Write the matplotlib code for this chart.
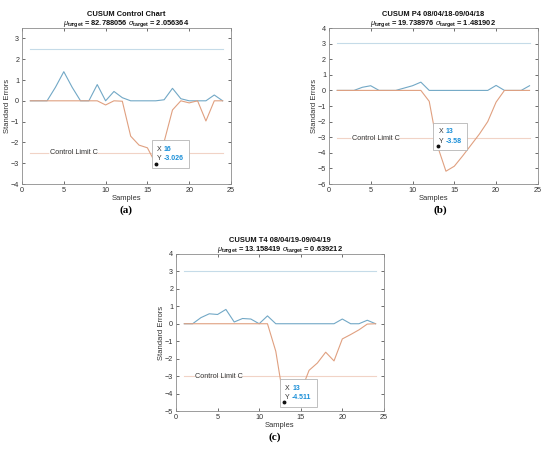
"""CUSUM control charts for three series, laid out as panels (a), (b), (c)."""

import matplotlib
matplotlib.use("Agg")
import matplotlib.pyplot as plt
from matplotlib.offsetbox import AnnotationBbox, HPacker, TextArea, VPacker

samples = list(range(1, 25))

# panel (a)
upper_a = [0, 0, 0, 0.65, 1.4, 0.65, 0, 0, 0.78, 0, 0.45, 0.15,
           0, 0, 0, 0, 0.05, 0.6, 0.1, 0, 0, 0, 0.28, 0]
lower_a = [0, 0, 0, 0, 0, 0, 0, 0, 0, -0.2, 0, -0.02,
           -1.7, -2.13, -2.26, -3.026, -1.97, -0.44, 0, -0.1, 0, -0.97, 0, 0]
limit_a = 2.5

# panel (b)
upper_b = [0, 0, 0, 0.2, 0.3, 0, 0, 0, 0.15, 0.3, 0.53, 0,
           0, 0, 0, 0, 0, 0, 0, 0.32, 0, 0, 0, 0.3]
lower_b = [0, 0, 0, 0, 0, 0, 0, 0, 0, 0, 0, -0.7,
           -3.58, -5.18, -4.86, -4.2, -3.5, -2.8, -2.0, -0.75, 0, 0, 0, 0]
limit_b = 3.06

# panel (c)
upper_c = [0, 0, 0.35, 0.57, 0.53, 0.82, 0.1, 0.3, 0.27, 0, 0.45, 0,
           0, 0, 0, 0, 0, 0, 0, 0.27, 0, 0, 0.2, 0]
lower_c = [0, 0, 0, 0, 0, 0, 0, 0, 0, 0, 0, -1.58,
           -4.511, -4.2, -3.9, -2.67, -2.25, -1.63, -2.13, -0.87, -0.62, -0.35, -0.02, 0]
limit_c = 3.0

titles = [
    ("CUSUM Control Chart", "82.788056", "2.056364"),
    ("CUSUM P4 08/04/18-09/04/18", "19.738976", "1.481902"),
    ("CUSUM T4 08/04/19-09/04/19", "13.158419", "0.639212"),
]
tip_index = [15, 12, 12]
ylims = [(-4, 3.5), (-6, 4), (-5, 4)]
yticks = [range(-4, 4), range(-6, 5), range(-5, 5)]
limit_label_x = [3.3, 2.75, 2.3]
panel_tags = ["(a)", "(b)", "(c)"]

BLUE = "#72a8c6"
ORANGE = "#e0a080"
BLUE_LIMIT = "#c5dbe8"
ORANGE_LIMIT = "#f1d3c6"
TIP_BLUE = "#1a8fd8"
TEXT = "#333333"

plt.rcParams["font.family"] = ["Liberation Sans", "DejaVu Sans"]
plt.rcParams["mathtext.fontset"] = "custom"
plt.rcParams["mathtext.rm"] = "Liberation Sans"
plt.rcParams["mathtext.it"] = "Liberation Sans:italic"
plt.rcParams["mathtext.bf"] = "Liberation Sans:bold"

fig = plt.figure(figsize=(5.5, 4.54), dpi=100)
positions = [
    [0.040, 0.5947, 0.380, 0.3436],
    [0.598, 0.5947, 0.380, 0.3436],
    [0.320, 0.0947, 0.378, 0.3460],
]
tag_positions = [(0.229, 0.538), (0.800, 0.538), (0.500, 0.037)]

series = [(upper_a, lower_a, limit_a), (upper_b, lower_b, limit_b), (upper_c, lower_c, limit_c)]

for i, (up, lo, lim) in enumerate(series):
    ax = fig.add_axes(positions[i])
    ax.plot([samples[0], samples[-1]], [lim, lim], color=BLUE_LIMIT, lw=0.8)
    ax.plot([samples[0], samples[-1]], [-lim, -lim], color=ORANGE_LIMIT, lw=0.8)
    ax.plot(samples, up, color=BLUE, lw=0.8)
    ax.plot(samples, lo, color=ORANGE, lw=0.8)

    ax.text(limit_label_x[i], -lim, "Control Limit C", fontsize=5.2, color=TEXT,
            va="center", ha="left",
            bbox=dict(facecolor="white", edgecolor="none", pad=0.3, alpha=0.7))

    ax.set_xlim(0, 25)
    ax.set_ylim(*ylims[i])
    ax.set_xticks(range(0, 26, 5))
    ax.set_yticks(list(yticks[i]))
    ax.tick_params(direction="in", length=2, width=0.5, labelsize=5.2,
                   colors=TEXT, top=True, right=True, pad=2)
    for sp in ax.spines.values():
        sp.set_color("#8c8c8c")
        sp.set_linewidth(0.6)
    ax.set_xlabel("Samples", fontsize=5.5, color=TEXT, labelpad=1)
    ax.set_ylabel("Standard Errors", fontsize=5.5, color=TEXT, labelpad=0)

    name, mu, sigma = titles[i]
    ax.set_title(
        f"{name}\n" + r"$\mu_{\mathbf{target}}$" + f" = {mu} " + r"$\sigma_{\mathbf{target}}$" + f" = {sigma}",
        fontsize=5.4, fontweight="bold", color="#111111", pad=2, linespacing=1.15,
    )

    # data tip
    k = tip_index[i]
    xv, yv = samples[k], lo[k]
    ax.plot([xv], [yv], "o", color="#111111", ms=1.8, zorder=6)
    ytxt = f"{yv:g}"
    row_x = HPacker(children=[
        TextArea("X ", textprops=dict(fontsize=5.0, color=TEXT)),
        TextArea(f"{xv}", textprops=dict(fontsize=5.0, color=TIP_BLUE, fontweight="bold")),
    ], pad=0, sep=0)
    row_y = HPacker(children=[
        TextArea("Y ", textprops=dict(fontsize=5.0, color=TEXT)),
        TextArea(ytxt, textprops=dict(fontsize=5.0, color=TIP_BLUE, fontweight="bold")),
    ], pad=0, sep=0)
    tip = VPacker(children=[row_x, row_y], pad=0, sep=1.8, align="left")
    ab = AnnotationBbox(tip, (xv, yv), xybox=(1, 1), boxcoords="offset points",
                        box_alignment=(0, 0), frameon=True, pad=0.4,
                        bboxprops=dict(facecolor="white", edgecolor="#b5b5b5", lw=0.6))
    ab.set_zorder(5)
    ax.add_artist(ab)

    fig.text(*tag_positions[i], panel_tags[i], fontsize=8, fontweight="bold",
             family=["Liberation Serif", "DejaVu Serif"], ha="center", va="center")

fig.savefig("out.png", dpi=100)
